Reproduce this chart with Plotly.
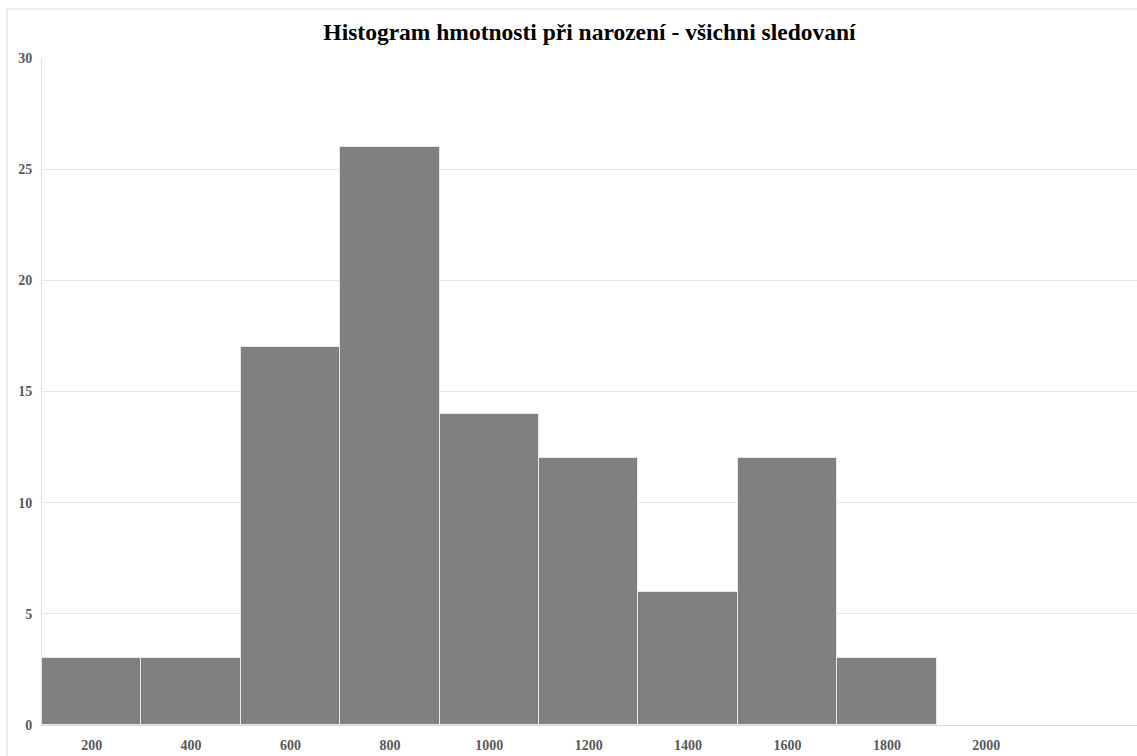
import plotly.graph_objects as go

bins = [200, 400, 600, 800, 1000, 1200, 1400, 1600, 1800, 2000]
counts = [3, 3, 17, 26, 14, 12, 6, 12, 3, 0]
yticks = [0, 5, 10, 15, 20, 25, 30]

L, R, T, B = 42, 0, 58, 31
W, H = 1137, 756
pw, ph = W - L - R, H - T - B
unit_per_px = 200 / 99.4

fig = go.Figure()
fig.add_trace(go.Bar(
    x=bins, y=counts, width=200,
    marker=dict(color="#808080",
                line=dict(color="#e8e8e8", width=[1 if c > 0 else 0 for c in counts])),
))

fig.update_layout(
    width=W, height=H,
    margin=dict(l=L, r=R, t=T, b=B),
    paper_bgcolor="white", plot_bgcolor="white",
    showlegend=False,
    font=dict(family="Liberation Serif", color="#595959"),
    title=dict(text="Histogram hmotnosti při narození - všichni sledovaní",
               x=0.5, xref="paper", xanchor="center", y=1 - 32 / H, yanchor="middle",
               font=dict(family="Liberation Serif", size=23.5, color="#000000", weight="bold")),
    bargap=0,
)
fig.update_xaxes(
    range=[100, 100 + unit_per_px * pw], tickmode="array", tickvals=bins,
    ticktext=[str(b) for b in bins],
    tickfont=dict(size=14, weight="bold", color="#595959"),
    showgrid=False, showline=True, linecolor="#d9d9d9", linewidth=1,
    ticks="", zeroline=False, ticklabelstandoff=7,
)
fig.update_yaxes(
    range=[0, 30], tickmode="array", tickvals=yticks,
    tickfont=dict(size=14, weight="bold", color="#595959"),
    showgrid=True, gridcolor="#e6e6e6", gridwidth=1,
    showline=True, linecolor="#e0e0e0", linewidth=1,
    zeroline=False, ticks="", ticklabelstandoff=6,
)
# outer chart frame
fig.add_shape(type="line", xref="paper", yref="paper",
              x0=(7 - L) / pw, x1=1.01, y0=1 + (T - 9) / ph, y1=1 + (T - 9) / ph,
              line=dict(color="#d9d9d9", width=1))
fig.add_shape(type="line", xref="paper", yref="paper",
              x0=(7 - L) / pw, x1=(7 - L) / pw, y0=1 + (T - 9) / ph, y1=-B / ph - 0.01,
              line=dict(color="#d9d9d9", width=1))

fig.write_html("out.html", config={"displayModeBar": False},
               post_script="document.body.style.margin='0px';")
